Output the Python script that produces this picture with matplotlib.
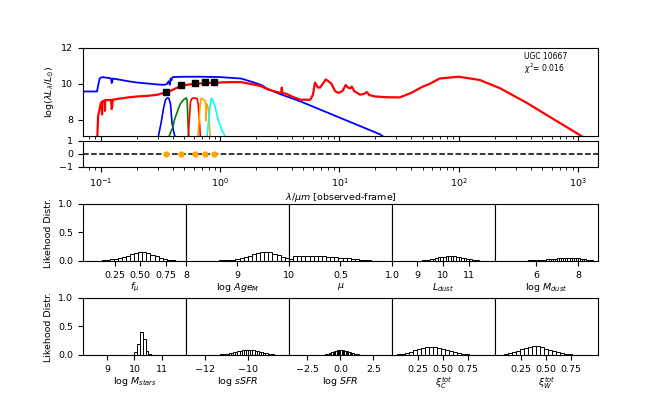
import numpy as np
import matplotlib
matplotlib.use('Agg')
import matplotlib.pyplot as plt

plt.rcParams['font.size'] = 6.8

# --- SED: total model (red) and unattenuated stars (blue) -----------------
red_wave = [0.093, 0.095, 0.1, 0.102, 0.1025, 0.103, 0.105, 0.108, 0.1085, 0.109, 0.112,
            0.118, 0.122, 0.1235, 0.1245, 0.126, 0.14, 0.17, 0.2, 0.25, 0.3, 0.33,
            0.37, 0.40, 0.44, 0.48, 0.55, 0.62, 0.75, 0.91, 1.2, 1.5, 1.8, 2.2, 2.5,
            3.0, 3.25, 3.29, 3.33, 3.6, 4.0, 4.7, 5.7, 6.0, 6.25, 6.6, 6.9, 7.7, 8.1,
            8.6, 9.2, 9.8, 10.6, 11.3, 11.8, 12.3, 12.7, 13.3, 14.9, 16.2, 17.0, 17.8,
            20, 25, 32, 40, 50, 57, 69, 100, 150, 222, 373, 630, 1050, 1300]
red_logl = [6.5, 8.2, 8.9, 9.0, 8.3, 9.0, 9.05, 9.08, 8.5, 9.08, 9.1,
            9.1, 9.12, 8.6, 8.7, 9.12, 9.17, 9.25, 9.3, 9.34, 9.4, 9.48,
            9.55, 9.67, 9.8, 9.9, 9.97, 10.0, 10.05, 10.07, 10.1, 10.1, 10.0, 9.88, 9.7,
            9.55, 9.5, 9.8, 9.5, 9.45, 9.3, 9.12, 9.12, 9.4, 10.07, 9.8, 9.8, 10.25, 10.15,
            10.0, 9.6, 9.5, 9.6, 9.94, 9.8, 9.75, 9.85, 9.6, 9.4, 9.45, 9.55, 9.38,
            9.3, 9.26, 9.25, 9.5, 9.85, 10.0, 10.3, 10.4, 10.22, 9.76, 8.94, 8.02, 7.13, 6.7]

blue_wave = [0.07, 0.093, 0.095, 0.098, 0.1, 0.105, 0.11, 0.118, 0.122, 0.1235, 0.1245,
             0.126, 0.14, 0.17, 0.2, 0.25, 0.3, 0.34, 0.36, 0.37, 0.38, 0.385, 0.39,
             0.40, 0.5, 0.7, 1.0, 1.5, 1.78, 2.2, 2.46, 3.0, 4.7, 22, 24]
blue_logl = [9.58, 9.58, 9.9, 10.3, 10.35, 10.38, 10.35, 10.33, 10.3, 10.05, 10.1,
             10.3, 10.25, 10.15, 10.08, 10.02, 9.97, 9.95, 10.0, 10.15, 9.95, 10.3, 10.2,
             10.38, 10.4, 10.4, 10.38, 10.3, 10.15, 9.95, 9.75, 9.5, 9.03, 7.19, 7.0]

# --- filter transmission curves (scaled) ----------------------------------
u_wave = [0.302, 0.32, 0.335, 0.348, 0.36, 0.372, 0.384, 0.396, 0.41, 0.422]
u_logl = [7.0, 7.8, 8.6, 9.1, 9.22, 9.2, 8.9, 7.8, 7.3, 7.0]
g_wave = [0.37, 0.385, 0.40, 0.415, 0.435, 0.465, 0.495, 0.52, 0.53, 0.54, 0.55]
g_logl = [7.0, 7.3, 7.55, 8.0, 8.4, 8.9, 9.12, 9.22, 9.1, 7.6, 7.0]
r_wave = [0.54, 0.55, 0.565, 0.58, 0.60, 0.64, 0.655, 0.67, 0.685]
r_logl = [7.0, 7.8, 9.0, 9.18, 9.22, 9.2, 8.9, 8.0, 7.0]
i_wave = [0.65, 0.665, 0.68, 0.695, 0.72, 0.745, 0.758, 0.762, 0.767, 0.785, 0.80, 0.815, 0.83]
i_logl = [7.0, 7.8, 8.8, 9.2, 9.15, 9.05, 8.95, 7.95, 8.9, 8.8, 8.5, 7.6, 7.0]
z_wave = [0.775, 0.80, 0.825, 0.845, 0.86, 0.88, 0.91, 0.94, 0.97, 1.0, 1.04, 1.08, 1.11]
z_logl = [7.0, 7.9, 8.8, 9.2, 9.15, 9.0, 8.7, 8.3, 7.95, 7.7, 7.4, 7.2, 7.0]
filter_colors = ['blue', 'green', 'red', 'orange', 'cyan']

# --- observed photometry ---------------------------------------------------
obs_wave = [0.355, 0.47, 0.62, 0.75, 0.89]
obs_logl = [9.54, 9.94, 10.06, 10.09, 10.1]
obs_resid = [0.0, 0.0, 0.0, 0.0, 0.0]

# --- likelihood distributions: first bin edge, bin width, heights ---------
fmu_start, fmu_width = 0.0, 0.04
fmu_hist = [0.003, 0.005, 0.008, 0.012, 0.018, 0.027, 0.04, 0.055, 0.075, 0.095, 0.12, 0.145,
            0.16, 0.155, 0.135, 0.11, 0.085, 0.06, 0.04, 0.025, 0.015, 0.008, 0.004, 0.002]
age_start, age_width = 8.0, 0.08
age_hist = [0.001, 0.001, 0.002, 0.002, 0.003, 0.004, 0.005, 0.007, 0.009, 0.012, 0.016, 0.022,
            0.03, 0.045, 0.065, 0.09, 0.115, 0.14, 0.155, 0.16, 0.15, 0.13, 0.105, 0.075, 0.045]
mu_start, mu_width = 0.0, 0.04
mu_hist = [0.035, 0.09, 0.095, 0.095, 0.095, 0.095, 0.092, 0.088, 0.082, 0.076, 0.07, 0.064,
           0.058, 0.052, 0.045, 0.038, 0.03, 0.022, 0.015, 0.009, 0.005, 0.003, 0.002, 0.001, 0.001]
ldust_start, ldust_width = 8.5, 0.1
ldust_hist = [0.001, 0.001, 0.002, 0.003, 0.004,
              0.005, 0.008, 0.012, 0.018, 0.025, 0.033, 0.042, 0.052, 0.062, 0.07, 0.077, 0.082,
              0.085, 0.085, 0.083, 0.078, 0.07, 0.06, 0.05, 0.04, 0.03, 0.022, 0.015, 0.01,
              0.006, 0.004, 0.002, 0.001]
mdust_start, mdust_width = 5.0, 0.1
mdust_hist = [0.002, 0.003, 0.004, 0.005, 0.006, 0.008, 0.009, 0.011, 0.013, 0.015, 0.017, 0.019,
              0.021, 0.024, 0.026, 0.029, 0.032, 0.035, 0.038, 0.041, 0.044, 0.047, 0.05, 0.052,
              0.054, 0.055, 0.055, 0.054, 0.052, 0.048, 0.044, 0.039, 0.034, 0.028, 0.022, 0.017,
              0.012, 0.008, 0.005, 0.003]
mstar_start, mstar_width = 9.9, 0.1
mstar_hist = [0.005, 0.05, 0.19, 0.41, 0.28, 0.07, 0.01]
ssfr_start, ssfr_width = -11.6, 0.1
ssfr_hist = [0.002, 0.004, 0.006, 0.009, 0.013, 0.018, 0.024, 0.031, 0.039, 0.047, 0.056, 0.064,
             0.072, 0.079, 0.085, 0.089, 0.09, 0.088, 0.084, 0.078, 0.07, 0.061, 0.052, 0.043,
             0.034, 0.026, 0.019, 0.013, 0.008, 0.005]
sfr_start, sfr_width = -1.5, 0.1
sfr_hist = [0.003, 0.005, 0.008, 0.012, 0.017, 0.023, 0.03, 0.038, 0.047, 0.056, 0.065, 0.073,
            0.08, 0.085, 0.088, 0.089, 0.087, 0.083, 0.077, 0.07, 0.062, 0.054, 0.046, 0.038,
            0.031, 0.024, 0.018, 0.013, 0.009, 0.006, 0.004, 0.003, 0.002, 0.001]
xic_start, xic_width = 0.0, 0.04
xic_hist = [0.005, 0.01, 0.02, 0.035, 0.055, 0.08, 0.105, 0.125, 0.14, 0.145, 0.14, 0.125,
            0.105, 0.085, 0.065, 0.047, 0.032, 0.02, 0.012, 0.007, 0.004, 0.002, 0.001, 0.0005, 0.0]
xiw_start, xiw_width = 0.0, 0.04
xiw_hist = [0.004, 0.008, 0.016, 0.03, 0.05, 0.075, 0.1, 0.125, 0.145, 0.155, 0.15, 0.135,
            0.112, 0.09, 0.068, 0.05, 0.034, 0.022, 0.013, 0.008, 0.004, 0.002, 0.001, 0.0005, 0.0]

fig = plt.figure(figsize=(6.64, 3.99), dpi=100)

# SED panel
ax = fig.add_axes([0.125, 0.6591, 0.7756, 0.2206])
ax.plot(blue_wave, blue_logl, color='blue', lw=1.3)
ax.plot(red_wave, red_logl, color='red', lw=1.6)
filters = [(u_wave, u_logl), (g_wave, g_logl), (r_wave, r_logl), (i_wave, i_logl), (z_wave, z_logl)]
for (fw, fl), c in zip(filters, filter_colors):
    ax.plot(fw, fl, color=c, lw=1.2)
ax.plot(obs_wave, obs_logl, 's', color='black', ms=4.2, zorder=5)
ax.set_xscale('log')
ax.set_xlim(0.071, 1470)
ax.set_ylim(7.1, 12)
ax.set_yticks([8, 10, 12])
ax.tick_params(labelbottom=False)
ax.set_ylabel(r'log($\lambda L_{\lambda}/L_{\odot}$)')
ax.text(0.857, 0.95, 'UGC 10667\n$\\chi^2$= 0.016', transform=ax.transAxes,
        va='top', ha='left', fontsize=5.5, linespacing=1.0)

# residual panel
axr = fig.add_axes([0.125, 0.5815, 0.7756, 0.0652])
axr.axhline(0, color='black', ls='--', lw=1.1)
axr.plot(obs_wave, obs_resid, 'o', color='orange', ms=3.5, zorder=5)
axr.set_xscale('log')
axr.set_xlim(0.071, 1470)
axr.set_ylim(-1, 1)
axr.set_yticks([-1, 0, 1])
axr.set_xlabel(r'$\lambda/\mu m$ [observed-frame]', labelpad=1)

# likelihood distributions
row1 = [
    (fmu_start, fmu_width, fmu_hist, (-0.065, 0.95), [0.25, 0.5, 0.75], r'$f_{\mu}$'),
    (age_start, age_width, age_hist, (8, 10), [8, 9, 10], r'log $Age_M$'),
    (mu_start, mu_width, mu_hist, (0, 1), [0.5, 1.0], r'$\mu$'),
    (ldust_start, ldust_width, ldust_hist, (8.03, 12.0), [9, 10, 11], r'$L_{dust}$'),
    (mdust_start, mdust_width, mdust_hist, (4.05, 8.95), [6, 8], r'log $M_{dust}$'),
]
row2 = [
    (mstar_start, mstar_width, mstar_hist, (8.13, 11.87), [9, 10, 11], r'log $M_{stars}$'),
    (ssfr_start, ssfr_width, ssfr_hist, (-12.9, -8.1), [-12, -10], r'log $sSFR$'),
    (sfr_start, sfr_width, sfr_hist, (-3.9, 3.9), [-2.5, 0.0, 2.5], r'log $SFR$'),
    (xic_start, xic_width, xic_hist, (-0.01, 1.02), [0.25, 0.5, 0.75], r'$\xi_C^{tot}$'),
    (xiw_start, xiw_width, xiw_hist, (-0.01, 1.02), [0.25, 0.5, 0.75], r'$\xi_W^{tot}$'),
]
pw = 0.1551
for bottom, row in [(0.3459, row1), (0.1103, row2)]:
    for k, (start, width, heights, xl, ticks, label) in enumerate(row):
        h = fig.add_axes([0.125 + k * pw, bottom, pw, 0.1429])
        lefts = start + width * np.arange(len(heights))
        h.bar(lefts, heights, width=width, align='edge', facecolor='white',
              edgecolor='black', lw=0.7)
        h.set_xlim(*xl)
        h.set_ylim(0, 1)
        h.set_xticks(ticks)
        h.set_xlabel(label, labelpad=1)
        if k == 0:
            h.set_yticks([0, 0.5, 1.0])
            h.set_ylabel('Likehood Distr.')
        else:
            h.set_yticks([])

fig.savefig('out.png', dpi=100)
